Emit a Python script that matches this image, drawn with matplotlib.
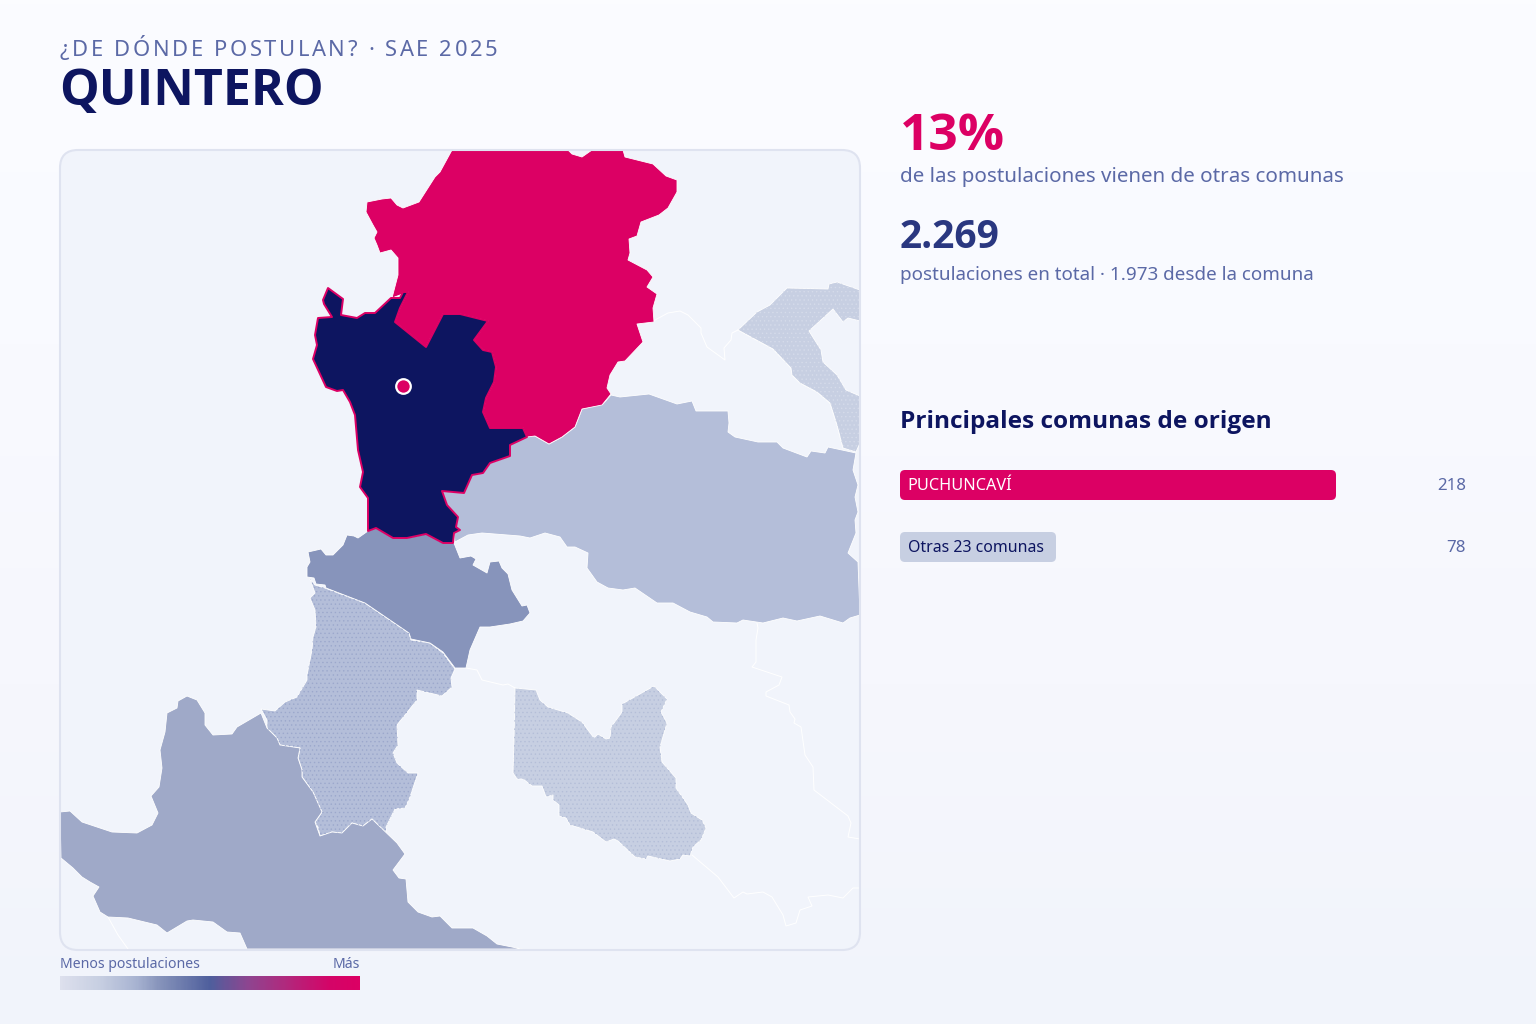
import numpy as np
import matplotlib
matplotlib.use("Agg")
import matplotlib.pyplot as plt
from matplotlib.colors import LinearSegmentedColormap
from matplotlib.patches import FancyBboxPatch, Polygon
from matplotlib.font_manager import FontProperties

plt.rcParams['font.family'] = ['Noto Sans', 'DejaVu Sans']
plt.rcParams['hatch.linewidth'] = 0.5

NAVY = "#0d1560"
PINK = "#dc0064"
MUTED = "#5b69a6"
PANEL = "#f1f4fb"
BOLD = "Open Sans"

# comunas, pixel outline
puchuncavi = [(452,150),(568,150),(572,154),(582,157),(592,150),(623,150),(625,157),(653,164),(666,176),(677,180),
    (677,192),(668,208),(659,215),(641,222),(637,236),(629,239),(630,253),(628,260),(647,270),(653,277),(647,287),
    (657,294),(653,308),(654,322),(637,324),(643,342),(625,361),(618,362),(610,375),(607,388),(611,394),(602,405),
    (582,409),(575,427),(562,437),(549,444),(535,436),(527,437),(523,428),(490,428),(483,412),(486,398),(494,382),
    (496,367),(492,352),(483,350),(474,340),(488,321),(460,314),(443,314),(426,347),(395,322),(400,308),(408,292),
    (392,298),(398,275),(398,258),(391,250),(380,253),(377,245),(374,238),(377,232),(373,225),(366,212),(367,202),
    (382,199),(391,198),(397,205),(403,208),(419,202),(435,177),(440,172)]
quintero = [(408,292),(400,308),(395,322),(426,347),(443,314),(460,314),(488,321),(474,340),(483,350),(492,352),
    (496,367),(494,382),(486,398),(483,412),(490,428),(523,428),(527,437),(510,445),(510,456),(490,463),(483,473),
    (472,475),(464,493),(442,491),(447,505),(458,517),(456,527),(460,530),(454,533),(453,543),(443,543),(426,534),
    (407,538),(393,538),(376,528),(368,531),(368,510),(368,498),(360,487),(363,472),(358,450),(355,415),(350,402),
    (343,390),(337,391),(326,387),(313,359),(317,345),(315,335),(318,318),(332,317),(324,304),(323,300),(328,288),
    (343,299),(341,315),(357,318),(365,313),(375,313),(391,298),(400,298),(403,292)]
sur_oscuro = [(368,531),(376,528),(393,538),(407,538),(426,534),(443,543),(454,543),(460,558),(471,556),(476,559),
    (473,565),(487,573),(490,562),(499,561),(502,568),(508,574),(512,590),(522,606),(527,605),(530,613),(523,621),
    (510,624),(490,627),(480,627),(470,650),(466,668),(455,668),(443,652),(430,643),(411,639),(409,633),(365,603),
    (326,588),(325,585),(316,584),(314,578),(307,577),(307,567),(310,562),(308,552),(321,549),(326,555),(333,555),
    (343,545),(347,535),(354,536),(358,538)]
costa_media = [(310,579),(315,585),(325,588),(365,603),(409,633),(411,640),(430,643),(443,653),(455,669),(451,678),
    (452,687),(442,696),(417,690),(417,700),(397,725),(398,745),(393,753),(397,763),(408,773),(418,773),(410,797),
    (405,808),(395,809),(386,827),(386,833),(372,819),(363,826),(352,823),(342,833),(332,832),(320,836),(318,827),
    (315,822),(322,812),(313,792),(302,777),(302,770),(298,758),(300,748),(280,745),(277,738),(267,728),(267,720),
    (261,709),(275,711),(285,702),(297,697),(307,680),(307,675),(312,650),(313,637),(316,627),(315,610),(310,598),(315,593)]
costa_sur = [(261,713),(267,728),(277,738),(280,745),(300,748),(298,758),(302,770),(302,777),(313,792),(322,812),
    (315,822),(320,836),(332,832),(342,833),(352,823),(363,826),(372,819),(397,843),(405,854),(393,870),(399,878),
    (406,879),(408,902),(418,912),(432,917),(440,916),(452,928),(473,928),(487,936),(497,944),(522,949),(247,949),
    (240,933),(227,932),(213,922),(193,920),(187,921),(167,933),(157,925),(128,918),(108,917),(100,912),(93,896),
    (99,887),(90,882),(82,877),(73,868),(61,858),(60,812),(70,811),(82,822),(97,827),(112,832),(137,833),(152,825),
    (158,813),(151,796),(159,787),(162,768),(160,750),(165,732),(167,713),(177,708),(178,701),(187,696),(197,700),
    (205,713),(205,725),(213,735),(232,734),(237,727)]
este_grande = [(603,404),(611,395),(620,397),(649,394),(677,404),(692,401),(696,411),(728,411),(729,423),(728,432),
    (735,437),(758,442),(777,442),(783,448),(807,457),(811,451),(825,453),(828,447),(856,453),(853,470),(858,485),
    (855,497),(858,512),(855,520),(856,533),(848,553),(858,562),(860,615),(850,618),(843,623),(820,616),(797,621),
    (783,618),(763,623),(743,620),(737,623),(713,622),(707,617),(690,612),(673,603),(657,603),(635,588),(623,590),
    (608,588),(597,582),(587,568),(588,553),(575,547),(567,547),(560,537),(545,533),(530,538),(520,536),(482,533),
    (468,535),(455,542),(454,533),(460,530),(456,527),(458,517),(447,505),(442,491),(464,493),(472,475),(483,473),
    (490,463),(510,456),(510,445),(527,436),(535,436),(549,444),(562,437),(575,427),(582,409)]
noreste = [(738,330),(757,312),(770,305),(787,288),(828,289),(829,284),(837,282),(860,290),(860,321),(848,318),
    (843,322),(833,309),(809,331),(821,350),(823,362),(837,375),(846,390),(860,396),(860,443),(856,452),(843,448),
    (837,425),(830,403),(817,392),(800,383),(792,375),(791,368),(773,349)]
interior = [(515,688),(536,690),(540,700),(548,707),(568,713),(582,722),(594,738),(598,734),(606,739),(610,738),
    (611,727),(622,712),(622,704),(654,686),(667,699),(661,712),(667,723),(660,747),(662,762),(676,778),(676,788),
    (688,805),(691,813),(702,820),(706,828),(701,840),(693,847),(690,856),(683,855),(680,859),(670,861),(648,856),
    (646,859),(635,857),(618,841),(614,839),(606,842),(593,832),(570,825),(566,818),(559,816),(559,805),(553,800),
    (553,795),(546,797),(542,786),(532,786),(523,779),(517,779),(513,773),(514,740)]

# limites de comunas sin postulaciones
limite_a = [(757,623),(758,628),(756,640),(756,662),(752,667),(782,677),(779,685),(766,692),(766,696),(789,705),
    (790,712),(795,719),(794,723),(801,727),(805,755),(813,767),(814,790),(848,816),(851,823),(848,837),(860,839)]
limite_b = [(692,855),(718,877),(734,898),(743,892),(747,894),(763,892),(772,897),(783,915),(786,926),(796,923),
    (800,910),(812,906),(808,897),(828,895),(843,898),(853,888),(860,888)]
limite_c = [(466,668),(477,670),(482,680),(503,685),(508,684),(515,688)]
limite_d = [(637,323),(648,323),(655,320),(668,313),(680,311),(688,315),(701,328),(701,333),(707,347),(725,360),
    (724,348),(731,340),(732,333),(738,330)]
limite_e = [(108,917),(118,935),(128,949)]
limite_f = [(738,330),(773,349),(791,368),(792,375),(800,383),(817,392),(830,403),(837,425),(843,448)]

origen_labels = ["PUCHUNCAVÍ", "Otras 23 comunas"]
origen_values = [218, 78]
legend_stops = [(0, "#dde0ed"), (0.13, "#c7cfe2"), (0.25, "#a9b4d2"), (0.33, "#8794bb"), (0.5, "#4f5f9d"),
                (0.63, "#8f4590"), (0.75, "#b02a7e"), (0.9, "#d40568"), (1, "#dc0064")]

fig = plt.figure(figsize=(15.36, 10.24), dpi=100)
ax = fig.add_axes([0, 0, 1, 1])


def spaced_text(x, y, s, tracking, **kw):
    # matplotlib has no letter-spacing, so place the letters one at a time
    renderer = fig.canvas.get_renderer()
    prop = FontProperties(size=kw["fontsize"])
    bar = renderer.get_text_width_height_descent("|", prop, False)[0]
    for i, ch in enumerate(s):
        w = renderer.get_text_width_height_descent(s[:i] + "|", prop, False)[0] - bar
        ax.text(x + w + i * tracking, y, ch, va="baseline", ha="left", **kw)


# fondo
bg = LinearSegmentedColormap.from_list("bg", ["#fbfcff", "#f9faff", "#f6f7fd", "#f1f4fb"])
ax.imshow(np.linspace(0, 1, 256).reshape(-1, 1), cmap=bg, aspect="auto", extent=[0, 1536, 1024, 0], zorder=0)
ax.set_xlim(0, 1536)
ax.set_ylim(1024, 0)
ax.axis("off")

panel = FancyBboxPatch((60, 150), 800, 800, boxstyle="round,pad=0,rounding_size=18",
                       fc=PANEL, ec="none", zorder=1)
ax.add_patch(panel)

# (outline, fill, dots colour)
regiones = [
    (noreste, "#c7cfe2", "#d5dbea"),
    (interior, "#c7cfe2", "#b4bed8"),
    (este_grande, "#b4bed9", None),
    (costa_media, "#b4bed9", "#9ca8cc"),
    (costa_sur, "#9fa9c8", None),
    (sur_oscuro, "#8794bb", None),
    (puchuncavi, PINK, None),
]
for pts, color, dots in regiones:
    p = Polygon(pts, closed=True, fc=color, ec="white", lw=0.6, zorder=3, joinstyle="round")
    ax.add_patch(p)
    p.set_clip_path(panel)
    if dots:
        h = Polygon(pts, closed=True, fc="none", ec=dots, lw=0, hatch="....", zorder=3.2)
        ax.add_patch(h)
        h.set_clip_path(panel)

for lim in [limite_a, limite_b, limite_c, limite_d, limite_e, limite_f]:
    x, y = zip(*lim)
    line, = ax.plot(x, y, color="white", lw=0.7, zorder=2.5, solid_joinstyle="round")
    line.set_clip_path(panel)

q = Polygon(quintero, closed=True, fc=NAVY, ec=PINK, lw=1.4, zorder=4, joinstyle="round")
ax.add_patch(q)
q.set_clip_path(panel)
ax.plot([403], [386], "o", ms=10.5, mfc=PINK, mec="white", mew=1.6, zorder=5)

ax.add_patch(FancyBboxPatch((60, 150), 800, 800, boxstyle="round,pad=0,rounding_size=18",
                            fc="none", ec="#dfe3f0", lw=1.5, zorder=6))

# encabezado
spaced_text(60, 56, "¿DE DÓNDE POSTULAN? · SAE 2025", 2.6, fontsize=15.8, color=MUTED, zorder=7)
ax.text(59, 92, "QUINTERO", fontsize=36, fontweight="bold", family=BOLD, color=NAVY, va="center", ha="left", zorder=7)

# cifras
ax.text(900, 137, "13%", fontsize=37, fontweight="bold", family=BOLD, color=PINK, va="center", ha="left", zorder=7)
ax.text(900, 177, "de las postulaciones vienen de otras comunas", fontsize=14.85, color=MUTED, va="center", zorder=7)
ax.text(900, 238, "2.269", fontsize=28, fontweight="bold", family=BOLD, color="#2a3780", va="center", zorder=7)
ax.text(900, 275, "postulaciones en total · 1.973 desde la comuna", fontsize=13.55, color=MUTED, va="center", zorder=7)
ax.text(900, 422, "Principales comunas de origen", fontsize=17.6, fontweight="bold", family=BOLD, color=NAVY, va="center", zorder=7)

# barras
px_per_value = 2
for i, (name, val) in enumerate(zip(origen_labels, origen_values)):
    y = 470 + i * 62
    color = PINK if i == 0 else "#c7cfe2"
    ax.add_patch(FancyBboxPatch((900, y), val * px_per_value, 30, boxstyle="round,pad=0,rounding_size=5",
                                fc=color, ec="none", zorder=7))
    ax.text(907.5, y + 16.5, name, fontsize=11.7 if i == 0 else 11.45, color="white" if i == 0 else NAVY, va="center", zorder=8)
    ax.text(1466, y + 16.5, str(val), fontsize=12.2, color=MUTED, va="center", ha="right", zorder=8)

# leyenda
ax.text(60, 964.5, "Menos postulaciones", fontsize=10.15, color=MUTED, va="center", zorder=7)
ax.text(360, 964.5, "Más", fontsize=10.15, color=MUTED, va="center", ha="right", zorder=7)
legend_cmap = LinearSegmentedColormap.from_list("legend", legend_stops)
ax.imshow(np.linspace(0, 1, 300).reshape(1, -1), cmap=legend_cmap, aspect="auto",
          extent=[60, 360, 990, 976], zorder=7)
ax.set_xlim(0, 1536)
ax.set_ylim(1024, 0)

fig.savefig("out.png", dpi=100)
